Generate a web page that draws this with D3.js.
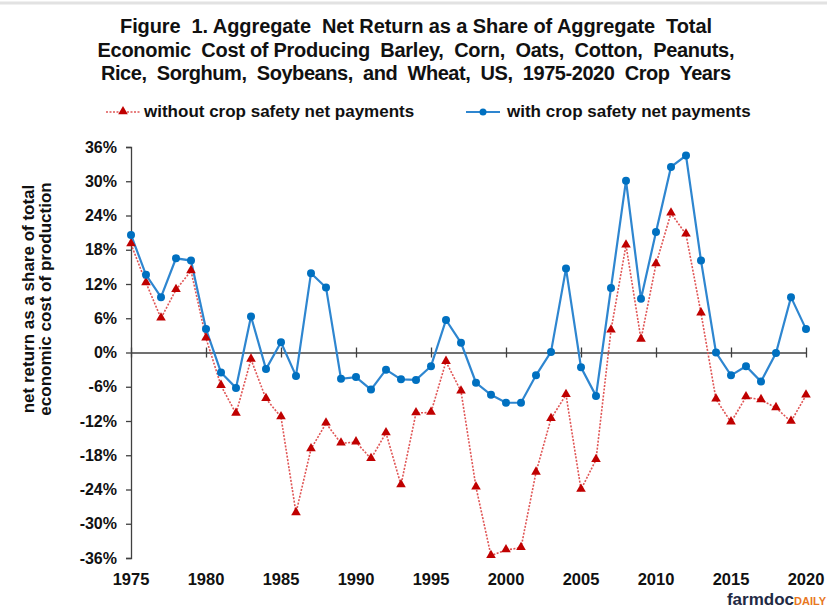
<!DOCTYPE html>
<html>
<head>
<meta charset="utf-8">
<script src="https://cdn.jsdelivr.net/npm/d3@7"></script>
<style>
  body { margin: 0; background: #fff; }
  text { font-family: "Liberation Sans", Arial, sans-serif; }
</style>
</head>
<body>
<div id="chart"></div>
<script>
// chart data
var years = d3.range(1975, 2021);
var withoutPayments = [19.0, 12.2, 6.0, 11.0, 14.3, 2.5, -5.8, -10.7, -1.2, -8.1,
  -11.3, -28.1, -16.9, -12.4, -15.9, -15.7, -18.6, -14.1, -23.2, -10.6,
  -10.5, -1.6, -6.8, -23.6, -35.6, -34.6, -34.2, -21.0, -11.6, -7.4,
  -24.0, -18.8, 3.9, 18.8, 2.3, 15.5, 24.4, 20.7, 6.9, -8.2,
  -12.2, -7.8, -8.3, -9.7, -12.1, -7.5];
var withPayments = [20.6, 13.6, 9.7, 16.5, 16.1, 4.1, -3.5, -6.2, 6.3, -2.9,
  1.8, -4.1, 13.9, 11.4, -4.6, -4.3, -6.5, -3.0, -4.7, -4.8,
  -2.4, 5.7, 1.7, -5.3, -7.4, -8.8, -8.8, -4.0, 0.1, 14.7,
  -2.6, -7.6, 11.3, 30.1, 9.4, 21.1, 32.5, 34.5, 16.1, 0.0,
  -4.0, -2.4, -5.1, -0.1, 9.7, 4.1];
var yTicks = [-36, -30, -24, -18, -12, -6, 0, 6, 12, 18, 24, 30, 36];
var xTicks = [1975, 1980, 1985, 1990, 1995, 2000, 2005, 2010, 2015, 2020];
var titleLines = [
  "Figure  1. Aggregate  Net Return as a Share of Aggregate  Total",
  "Economic  Cost of Producing  Barley,  Corn,  Oats,  Cotton,  Peanuts,",
  "Rice,  Sorghum,  Soybeans,  and  Wheat,  US,  1975-2020  Crop  Years"
];
var titleWidths = [592, 637, 630];

var width = 827, height = 609;
var margin = { top: 147, right: 21, bottom: 51, left: 131 };
var blue = "#0070C0", red = "#C00000", axisColor = "#404040";

var svg = d3.select("#chart").append("svg")
  .attr("width", width)
  .attr("height", height);

// faint frame line along the top edge
svg.append("line")
  .attr("x1", 0).attr("x2", width).attr("y1", 3).attr("y2", 3)
  .attr("stroke", "#e2e2e2").attr("stroke-width", 3);

var x = d3.scaleLinear().domain([1975, 2020]).range([margin.left, width - margin.right]);
var y = d3.scaleLinear().domain([-36, 36]).range([height - margin.bottom, margin.top]);

// title
svg.append("g").selectAll("text")
  .data(titleLines)
  .enter().append("text")
  .attr("x", 416)
  .attr("y", function(d, i) { return 33 + i * 23.5; })
  .attr("text-anchor", "middle")
  .attr("textLength", function(d, i) { return titleWidths[i]; })
  .attr("lengthAdjust", "spacing")
  .style("white-space", "pre")
  .attr("font-size", 20)
  .attr("font-weight", "bold")
  .attr("fill", "#111")
  .text(function(d) { return d; });

// y axis
var yAxis = svg.append("g")
  .attr("transform", "translate(" + margin.left + ",0)")
  .call(d3.axisLeft(y).tickValues(yTicks).tickSize(5).tickPadding(9)
    .tickFormat(function(d) { return d + "%"; }));
yAxis.select(".domain").attr("stroke", axisColor).attr("stroke-width", 1.3);
yAxis.selectAll(".tick line").attr("stroke", axisColor).attr("stroke-width", 1.3);
yAxis.selectAll(".tick text")
  .attr("font-size", 16).attr("font-weight", "bold").attr("fill", "#111")
  .style("font-family", "'Liberation Sans', Arial, sans-serif");

// x axis on the zero line
var xAxis = svg.append("g")
  .attr("transform", "translate(0," + y(0) + ")")
  .call(d3.axisBottom(x).tickValues(xTicks).tickSize(0).tickFormat(""));
xAxis.select(".domain").attr("stroke", axisColor).attr("stroke-width", 1.3);
xAxis.selectAll(".tick line")
  .attr("y1", -5).attr("y2", 5)
  .attr("stroke", axisColor).attr("stroke-width", 1.3);

// year labels along the bottom
svg.append("g").selectAll("text")
  .data(xTicks)
  .enter().append("text")
  .attr("x", function(d) { return x(d); })
  .attr("y", 585)
  .attr("text-anchor", "middle")
  .attr("font-size", 16.5)
  .attr("font-weight", "bold")
  .attr("fill", "#111")
  .text(function(d) { return d; });

// y axis title
var yTitle = svg.append("text")
  .attr("transform", "translate(34,299) rotate(-90)")
  .attr("text-anchor", "middle")
  .attr("font-size", 17)
  .attr("font-weight", "bold")
  .attr("fill", "#111");
yTitle.append("tspan").attr("x", 0).attr("dy", 0).text("net return as a share of total");
yTitle.append("tspan").attr("x", 0).attr("dy", 17).text("economic cost of production");

// lines
var lineGen = function(vals) {
  return d3.line()
    .x(function(d, i) { return x(years[i]); })
    .y(function(d) { return y(d); })(vals);
};

svg.append("path")
  .attr("d", lineGen(withoutPayments))
  .attr("fill", "none")
  .attr("stroke", "#E05555")
  .attr("stroke-width", 1.6)
  .attr("stroke-dasharray", "2,1.5");

svg.append("path")
  .attr("d", lineGen(withPayments))
  .attr("fill", "none")
  .attr("stroke", "#2E86D0")
  .attr("stroke-width", 2.2);

var tri = d3.symbol().type(d3.symbolTriangle).size(40);

svg.append("g").selectAll("path")
  .data(withoutPayments)
  .enter().append("path")
  .attr("d", tri)
  .attr("transform", function(d, i) { return "translate(" + x(years[i]) + "," + (y(d) - 0.5) + ")"; })
  .attr("fill", red);

svg.append("g").selectAll("circle")
  .data(withPayments)
  .enter().append("circle")
  .attr("cx", function(d, i) { return x(years[i]); })
  .attr("cy", function(d) { return y(d); })
  .attr("r", 4)
  .attr("fill", blue);

// legend
var legend = svg.append("g");
legend.append("line")
  .attr("x1", 106).attr("x2", 140).attr("y1", 112).attr("y2", 112)
  .attr("stroke", "#E05555").attr("stroke-width", 1.6).attr("stroke-dasharray", "2,1.5");
legend.append("path")
  .attr("d", tri)
  .attr("transform", "translate(123,111.5)")
  .attr("fill", red);
legend.append("text")
  .attr("x", 144).attr("y", 117)
  .attr("font-size", 17).attr("font-weight", "bold").attr("fill", "#111")
  .text("without crop safety net payments");

legend.append("line")
  .attr("x1", 466).attr("x2", 500).attr("y1", 112).attr("y2", 112)
  .attr("stroke", "#2E86D0").attr("stroke-width", 2.2);
legend.append("circle")
  .attr("cx", 483).attr("cy", 112).attr("r", 3.5)
  .attr("fill", blue);
legend.append("text")
  .attr("x", 507).attr("y", 117)
  .attr("font-size", 17).attr("font-weight", "bold").attr("fill", "#111")
  .text("with crop safety net payments");

// farmdoc daily mark
var logo = svg.append("text")
  .attr("x", 826).attr("y", 605)
  .attr("text-anchor", "end")
  .attr("font-weight", "bold");
logo.append("tspan").attr("font-size", 17).attr("fill", "#1F2A44").text("farmdoc");
logo.append("tspan").attr("font-size", 11).attr("fill", "#E87722").text("DAILY");
</script>
</body>
</html>
